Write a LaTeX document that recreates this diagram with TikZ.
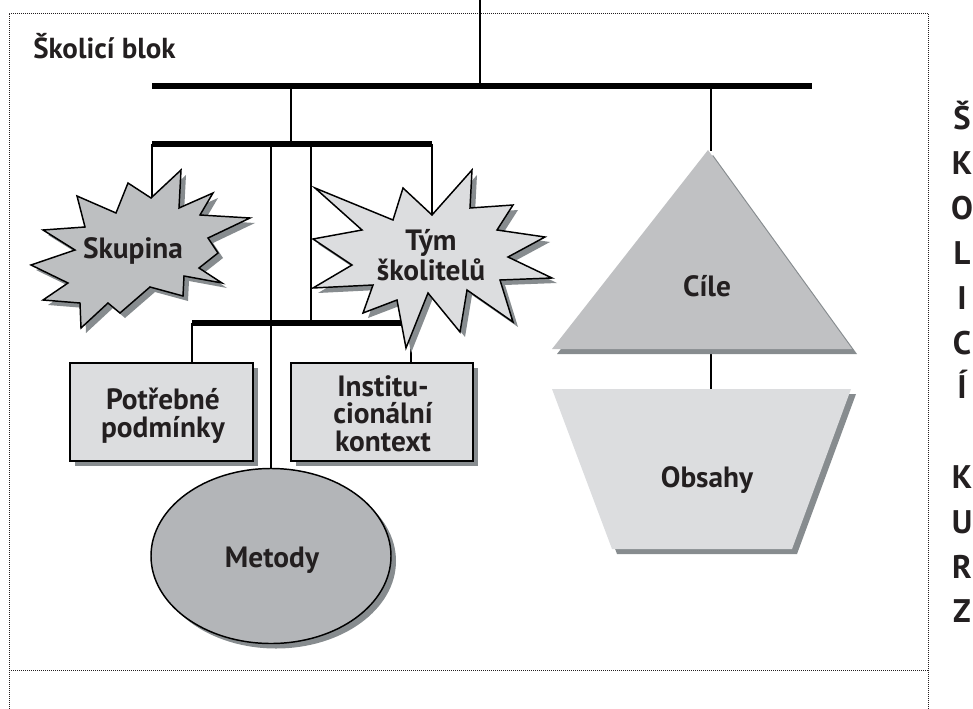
\documentclass[tikz,border=0pt]{standalone}
\usepackage{fontspec}
\setmainfont{PT Sans}
\usetikzlibrary{shadows,shapes.geometric}
\definecolor{ink}{HTML}{231F20}
\definecolor{lightfill}{HTML}{DCDDDF}
\definecolor{midfill}{HTML}{BDBFC1}
\definecolor{ovalfill}{HTML}{B3B5B8}
\definecolor{goalfill}{HTML}{C0C1C3}
\definecolor{shade}{HTML}{878C8F}
\begin{document}
\begin{tikzpicture}[x=0.75pt, y=-0.75pt,
  frameline/.style={draw=ink, line width=0.6pt, dash pattern=on 0.6pt off 0.9pt},
  mainbar/.style={draw=black, line width=4.5pt},
  subbar/.style={draw=black, line width=3.8pt},
  wire/.style={draw=black, line width=1.15pt},
  castshadow/.style={drop shadow={shadow xshift=3.75pt, shadow yshift=-3.75pt, fill=shade, opacity=1}},
  outlined/.style={draw=black, line width=1.1pt, line join=miter},
  lbl/.style={font=\bfseries\fontsize{22}{20.3}\selectfont, text=ink, align=center, inner sep=0pt},
  boxnode/.style={rectangle, outlined, fill=lightfill, castshadow, minimum height=73.5pt, inner sep=0pt},
  sidechar/.style={font=\bfseries\fontsize{24.5}{30}\selectfont, text=ink, inner sep=0pt, anchor=base},
]
\useasboundingbox (0,0) rectangle (973,709);

% dotted frame of the block
\draw[frameline] (9,709) -- (9,13) -- (928,13) -- (928,709);
\draw[frameline] (9,670) -- (928,670);

% bus bars
\coordinate (topin) at (480,0);
\coordinate (busAl) at (152,86);
\coordinate (busAr) at (812,86);
\coordinate (busBl) at (152,144);
\coordinate (busBr) at (432,144);
\coordinate (busCl) at (192,323);
\coordinate (busCr) at (411,323);
\coordinate (busCm) at (311,323);

% attachment points on the drawn shapes
\coordinate (grpTop) at (152,200);
\coordinate (teamTop) at (432,217);
\coordinate (goalTop) at (711,151);
\coordinate (goalBase) at (711,349);
\coordinate (contTop) at (711,389);

% boxes and the oval
\node[boxnode, minimum width=137.25pt] (cond) at (161.5,412) {};
\node[boxnode, minimum width=136.5pt] (inst) at (382,412) {};
\node[ellipse, outlined, fill=ovalfill, castshadow, minimum width=180pt, minimum height=131.25pt, inner sep=0pt] (meth) at (271,556) {};

% connectors
\draw[wire] (topin) -- (topin |- busAl);
\draw[wire] (291,86) -- (291,144);
\draw[wire] (goalTop |- busAl) -- (goalTop);
\draw[wire] (busBl) -- (grpTop);
\draw[wire] (271,144) -- (meth.north);
\draw[wire] (311,144) -- (busCm);
\draw[wire] (busBr) -- (teamTop);
\draw[wire] (busCl) -- (busCl |- cond.north);
\draw[wire] (busCr) -- (busCr |- inst.north);
\draw[wire] (goalBase) -- (contTop);
\draw[mainbar] (busAl) -- (busAr);
\draw[subbar] (busBl) -- (busBr);
\draw[subbar] (busCl) -- (busCr);

% starbursts
\filldraw[outlined, fill=midfill, castshadow]
  (181,170) -- (179,208) -- (213,193) -- (200,215) -- (250,218) -- (208,238)
  -- (218,253) -- (199,268) -- (222,283) -- (184,276) -- (183,296) -- (150,287)
  -- (120,313) -- (108,303) -- (81,328) -- (80,303) -- (43,300) -- (68,283)
  -- (31,265) -- (75,250) -- (43,230) -- (85,227) -- (77,196) -- (116,213)
  -- (128,183) -- (151,198) -- cycle;
\filldraw[outlined, fill=lightfill, castshadow]
  (472,170) -- (470,208) -- (513,205) -- (497,230) -- (545,237) -- (508,257)
  -- (552,278) -- (500,280) -- (513,322) -- (467,290) -- (460,332) -- (428,293)
  -- (406,348) -- (397,300) -- (363,313) -- (373,285) -- (313,288) -- (352,265)
  -- (313,239) -- (362,230) -- (315,188) -- (393,220) -- (403,188) -- (432,215)
  -- cycle;

% goals triangle and contents trapezoid
\fill[goalfill, castshadow] (708,150) -- (852,349) -- (552,349) -- cycle;
\fill[lightfill, castshadow] (552,389) -- (851,389) -- (792,549) -- (612,549) -- cycle;

% labels (base anchor of a multi-line label is its last line)
\node[anchor=base west, font=\bfseries\fontsize{21.7}{24}\selectfont, text=ink, inner sep=0pt] (title) at (33,59) {Školicí blok};
\node[lbl, anchor=base] (grp) at (133,258) {Skupina};
\node[lbl, anchor=base] (team) at (431,280) {Tým\\školitelů};
\node[lbl, anchor=base] (condtxt) at (163,437) {Potřebné\\podmínky};
\node[lbl, anchor=base] (insttxt) at (383,451) {Institu-\\cionální\\kontext};
\node[lbl, anchor=base] (methtxt) at (272,567) {Metody};
\node[lbl, anchor=base] (goal) at (707,296) {Cíle};
\node[lbl, anchor=base] (cont) at (707,487) {Obsahy};

% vertical caption on the right
\foreach \ch/\k in {Š/0,K/1,O/2,L/3,I/4,C/5,Í/6,K/8,U/9,R/10,Z/11}
  \node[sidechar] (side\k) at (962,130+44.8*\k) {\ch};
\end{tikzpicture}
\end{document}
